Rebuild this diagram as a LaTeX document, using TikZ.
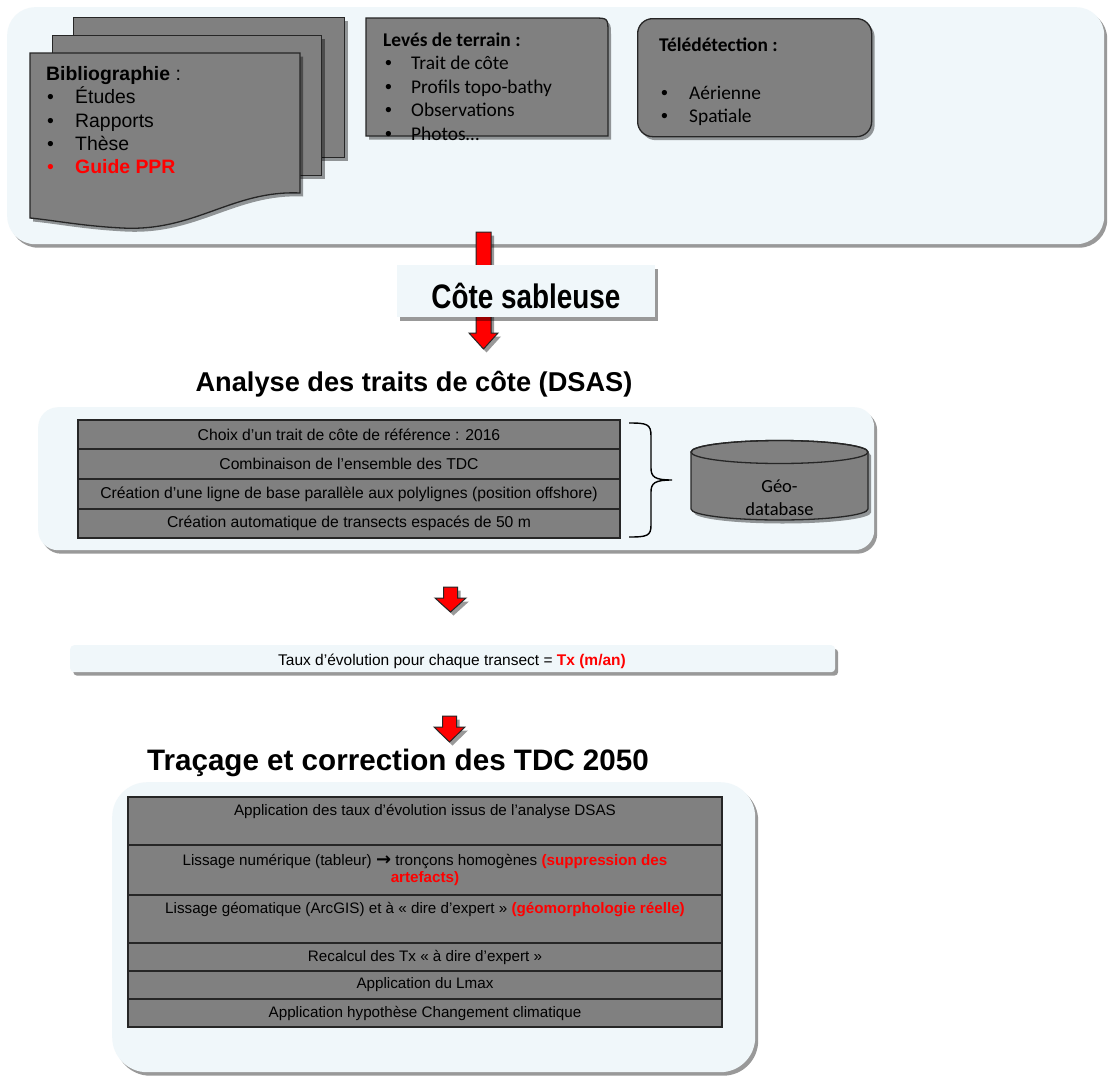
\documentclass[tikz,border=0pt]{standalone}
\usepackage{fontspec}
\setmainfont{Liberation Sans}
\newfontfamily\calfont{Carlito}
\newfontfamily\dejavu{DejaVu Sans}
\newfontfamily\narrowfont[FakeStretch=0.82]{Liberation Sans}
\usetikzlibrary{shadows,calc}
\definecolor{panel}{RGB}{240,247,250}
\definecolor{boxgray}{RGB}{128,128,128}
\definecolor{pptred}{RGB}{255,0,0}
\newcommand\fbib{\fontsize{19.4}{23}\selectfont}
\newcommand\fcal{\calfont\fontsize{19.4}{23}\selectfont}
\newcommand\fcote{\narrowfont\bfseries\fontsize{34}{36}\selectfont}
\newcommand\ftitleA{\bfseries\fontsize{27.2}{30}\selectfont}
\newcommand\ftitleB{\bfseries\fontsize{29.6}{30}\selectfont}
\newcommand\ftaux{\fontsize{15.5}{18}\selectfont}
\newcommand\frowA{\fontsize{15.7}{18}\selectfont}
\newcommand\frowB{\fontsize{15.2}{17.5}\selectfont}
\newcommand\bigarrow{{\dejavu\bfseries\fontsize{18}{17.5}\selectfont →}}
\newcommand\redarrow[6]{%
  \path[fill=pptred, draw=black!85, line width=1pt, shad]
    ({#1-#5},#2) -- ({#1+#5},#2) -- ({#1+#5},#3) -- ({#1+#6},#3) -- (#1,#4)
    -- ({#1-#6},#3) -- ({#1-#5},#3) -- cycle;}
\begin{document}
\begin{tikzpicture}[x=1pt,y=-1pt,
  shad/.style={drop shadow={shadow xshift=3pt,shadow yshift=-3.5pt,fill=black,opacity=0.4}},
  panelbox/.style={fill=panel, draw=none, shad, inner sep=0pt, anchor=north west},
  sheet/.style={fill=boxgray, draw=black!85, line width=1.3pt, shad},
  bib/.style={anchor=base west, inner sep=0pt, font=\fbib, text=black},
  cal/.style={anchor=base west, inner sep=0pt, font=\fcal, text=black},
  calb/.style={anchor=base west, inner sep=0pt, font=\fbib, text=black},
  rowA/.style={draw=black!85, line width=1.2pt, fill=boxgray, minimum width=542pt,
    inner sep=0pt, font=\frowA, align=center, text=black},
  rowB/.style={rowA, minimum width=594pt, font=\frowB},
  title/.style={inner sep=0pt, anchor=base, text=black}]
\useasboundingbox (0,0) rectangle (1114,1076);
\fill[white] (0,0) rectangle (1114,1076);

% ---------- top panel ----------
\node[panelbox, rounded corners=28pt, minimum width=1097pt, minimum height=237pt] (top) at (7,7) {};

% document stack
\node[sheet, anchor=north west, minimum width=271pt, minimum height=140pt, inner sep=0pt] (sheet3) at (73,17) {};
\node[sheet, anchor=north west, minimum width=269pt, minimum height=140pt, inner sep=0pt] (sheet2) at (52,35) {};
\path[sheet] (30,53) -- (300,53) -- (300,193)
  .. controls (232,190) and (195,232) .. (122,228)
  .. controls (82,226) and (52,220) .. (30,218) -- cycle;
\node[bib] (bibT) at (46,80) {\textbf{Bibliographie} :};
\node[bib] (bib1b) at (47,103) {•};
\node[bib] (bib1) at (75,103) {Études};
\node[bib] (bib2b) at (47,127) {•};
\node[bib] (bib2) at (75,127) {Rapports};
\node[bib] (bib3b) at (47,150) {•};
\node[bib] (bib3) at (75,150) {Thèse};
\node[bib, text=pptred] (bib4b) at (47,173) {•};
\node[bib, text=pptred] (bib4) at (75,173) {\textbf{Guide PPR}};

% Levés de terrain
\path[sheet] (366,136) -- (366,18) -- (593,18) .. controls (608,18) .. (608,33) -- (608,136) -- cycle;
\node[cal] (levT) at (383,46) {\textbf{Levés de terrain :}};
\node[calb] (lev1b) at (385,69.5) {•};
\node[cal] (lev1) at (411,69.5) {Trait de côte};
\node[calb] (lev2b) at (385,93) {•};
\node[cal] (lev2) at (411,93) {Profils topo-bathy};
\node[calb] (lev3b) at (385,116.5) {•};
\node[cal] (lev3) at (411,116.5) {Observations};
\node[calb] (lev4b) at (385,140) {•};
\node[cal] (lev4) at (411,140) {Photos…};

% Télédétection
\node[sheet, rounded corners=15pt, anchor=north west, minimum width=234pt, minimum height=118pt, inner sep=0pt] (tele) at (637,18) {};
\node[cal] (telT) at (659,51) {\textbf{Télédétection :}};
\node[calb] (tel1b) at (661,99) {•};
\node[cal] (tel1) at (689,99) {Aérienne};
\node[calb] (tel2b) at (661,122) {•};
\node[cal] (tel2) at (689,122) {Spatiale};

% ---------- arrow 1 and Côte sableuse ----------
\redarrow{483.5}{232}{333}{349}{7.5}{14.5}
\node[panelbox, minimum width=258pt, minimum height=52pt] (cote) at (397,265) {};
\node[title, font=\fcote] (coteT) at (526,308) {Côte sableuse};

\node[title, font=\ftitleA] (analyse) at (414,391) {Analyse des traits de côte (DSAS)};

% ---------- panel 2 ----------
\node[panelbox, rounded corners=20pt, minimum width=836pt, minimum height=143pt] (p2) at (38,407) {};
\node[rowA, minimum height=29pt] (a1) at (349,434.5) {Choix d’un trait de côte de référence : 2016};
\node[rowA, minimum height=30pt] (a2) at (349,464) {Combinaison de l’ensemble des TDC};
\node[rowA, minimum height=30pt] (a3) at (349,494) {Création d’une ligne de base parallèle aux polylignes (position offshore)};
\node[rowA, minimum height=29pt] (a4) at (349,523.5) {Création automatique de transects espacés de 50 m};

% brace
\draw[black, line width=1.4pt]
  (629,423) .. controls (647,423) and (651,424) .. (651,436) -- (651,468)
  .. controls (651,477) and (655,480) .. (672,480)
  .. controls (655,480) and (651,483) .. (651,492) -- (651,525)
  .. controls (651,536) and (647,537) .. (629,537);

% cylinder
\path[fill=boxgray, draw=black!85, line width=1.3pt, shad]
  (691,452) -- (691,509) arc[start angle=180, end angle=360, x radius=88.5pt, y radius=11pt]
  -- (868,452) arc[start angle=0, end angle=180, x radius=88.5pt, y radius=11.5pt] -- cycle;
\draw[black!85, line width=1.3pt] (779.5,452) ellipse [x radius=88.5pt, y radius=11.5pt];
\node[inner sep=0pt, font=\calfont\fontsize{18.5}{23}\selectfont, align=center, text=black] (db) at (779.5,498) {Géo-\\database};

% ---------- arrow 2, Taux ----------
\redarrow{450.5}{587}{598}{612}{7}{15.5}
\node[panelbox, rounded corners=4pt, minimum width=765pt, minimum height=27pt] (taux) at (70,645) {};
\node[title, font=\ftaux] (tauxT) at (452,665) {Taux d’évolution pour chaque transect = \textcolor{pptred}{\textbf{Tx (m/an)}}};

% ---------- arrow 3, Traçage ----------
\redarrow{449.5}{716}{727}{742}{7}{15.5}
\node[title, font=\ftitleB] (tracage) at (398,770) {Traçage et correction des TDC 2050};

% ---------- panel 3 ----------
\node[panelbox, rounded corners=35pt, minimum width=643pt, minimum height=290pt] (p3) at (112,782) {};
\node[rowB, minimum height=48pt] (b1) at (425,821) {Application des taux d’évolution issus de l’analyse DSAS\\\strut};
\node[rowB, minimum height=50pt] (b2) at (425,870) {Lissage numérique (tableur) \bigarrow{} tronçons homogènes \textcolor{pptred}{\textbf{(suppression des}}\\\textcolor{pptred}{\textbf{artefacts)}}};
\node[rowB, minimum height=48pt] (b3) at (425,919) {Lissage géomatique (ArcGIS) et à «~dire d’expert~» \textcolor{pptred}{\textbf{(géomorphologie réelle)}}\\\strut};
\node[rowB, minimum height=28pt] (b4) at (425,957) {Recalcul des Tx «~à dire d’expert~»};
\node[rowB, minimum height=28pt] (b5) at (425,985) {Application du Lmax};
\node[rowB, minimum height=28pt] (b6) at (425,1013) {Application hypothèse Changement climatique};
\end{tikzpicture}
\end{document}
